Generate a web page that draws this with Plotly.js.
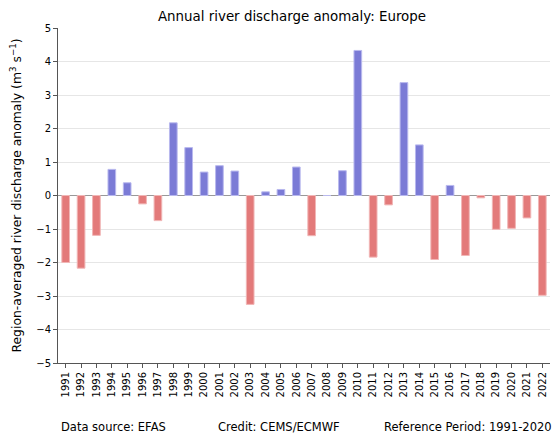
<!DOCTYPE html>
<html>
<head>
<meta charset="utf-8">
<script src="https://cdn.plot.ly/plotly-3.0.1.min.js"></script>
<style>html,body{margin:0;padding:0;background:#fff;}#chart{width:553px;height:434px;}</style>
</head>
<body>
<div id="chart"></div>
<script>
const years = ["1991","1992","1993","1994","1995","1996","1997","1998","1999","2000","2001","2002","2003","2004","2005","2006","2007","2008","2009","2010","2011","2012","2013","2014","2015","2016","2017","2018","2019","2020","2021","2022"];
const anomaly = [-2.00,-2.17,-1.19,0.78,0.38,-0.25,-0.75,2.17,1.43,0.70,0.89,0.73,-3.25,0.11,0.18,0.85,-1.20,0.00,0.74,4.33,-1.84,-0.28,3.37,1.51,-1.91,0.30,-1.79,-0.07,-1.01,-0.98,-0.67,-2.98];
const yTicks = [-5,-4,-3,-2,-1,0,1,2,3,4,5];
const footer = ["Data source: EFAS","Credit: CEMS/ECMWF","Reference Period: 1991-2020"];

const posColor = "#7b7bd6", negColor = "#e37a7a";
const posEdge = "#b9b9ee", negEdge = "#f1b6b6";

const trace = {
  type: "bar",
  x: years,
  y: anomaly,
  width: 0.5,
  marker: {
    color: anomaly.map(v => v >= 0 ? posColor : negColor),
    line: {color: anomaly.map(v => v >= 0 ? posEdge : negEdge), width: 1}
  },
  hoverinfo: "x+y"
};

const font = "DejaVu Sans, sans-serif";
const W = 553, H = 434, L = 58, R = 3, T = 28, B = 71;
const px = x => (x - L) / (W - L - R);
const py = y => (H - B - y) / (H - T - B);

const footerX = [113, 279, 468];

const layout = {
  width: W, height: H,
  margin: {l: L, r: R, t: T, b: B},
  paper_bgcolor: "#fff", plot_bgcolor: "#fff",
  showlegend: false,
  font: {family: font, size: 10, color: "#000"},
  title: {text: "Annual river discharge anomaly: Europe", font: {family: font, size: 13.4, color: "#000"}, x: 292 / W, xanchor: "center", y: 1 - 16 / H, yanchor: "middle"},
  xaxis: {
    type: "category",
    range: [-0.5, 31.5],
    tickangle: -90,
    ticks: "outside", ticklen: 4, tickcolor: "#555",
    showline: true, linecolor: "#555", linewidth: 1,
    showgrid: false, zeroline: false,
    tickfont: {family: font, size: 10, color: "#000"}
  },
  yaxis: {
    range: [-5, 5],
    tickvals: yTicks,
    ticktext: yTicks.map(v => v < 0 ? "\u2212" + Math.abs(v) : String(v)),
    ticks: "outside", ticklen: 4, tickcolor: "#555",
    showline: true, linecolor: "#555", linewidth: 1,
    showgrid: true, gridcolor: "#e6e6e6", gridwidth: 1,
    zeroline: true, zerolinecolor: "#999", zerolinewidth: 1.5,
    tickfont: {family: font, size: 10, color: "#000"},
    title: {text: "Region-averaged river discharge anomaly (m<sup>3</sup> s<sup>\u22121</sup>)", font: {family: font, size: 12.4, color: "#000"}, standoff: 11}
  },
  annotations: footer.map((t, i) => ({
    text: t, showarrow: false,
    xref: "paper", yref: "paper",
    x: px(footerX[i]), xanchor: "center",
    y: py(427), yanchor: "middle",
    font: {family: font, size: 11.5, color: "#000"}
  }))
};

Plotly.newPlot("chart", [trace], layout, {displayModeBar: false, staticPlot: true});
</script>
</body>
</html>
